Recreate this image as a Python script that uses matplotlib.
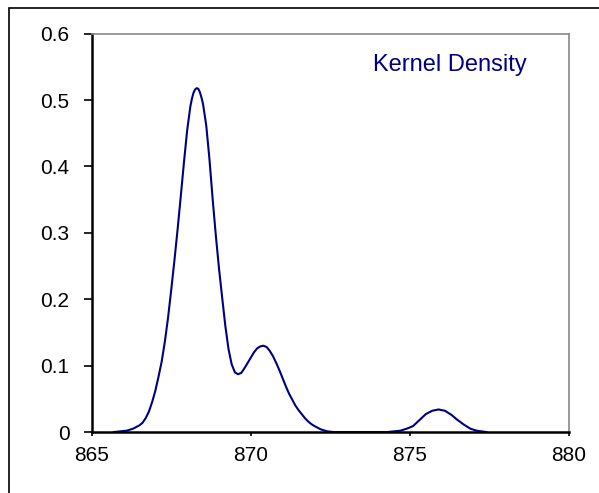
import matplotlib
matplotlib.use("Agg")
import matplotlib.pyplot as plt
from matplotlib.patches import Rectangle

plt.rcParams['font.family'] = ['Liberation Sans', 'DejaVu Sans']

# kernel density curve
x_vals = [865.7, 865.9, 866.1, 866.3, 866.5, 866.6, 866.7, 866.8, 866.9, 867.0,
          867.1, 867.2, 867.3, 867.4, 867.5, 867.6, 867.7, 867.8, 867.9, 868.0,
          868.1, 868.15, 868.2, 868.25, 868.3, 868.35, 868.4, 868.45, 868.5, 868.6,
          868.7, 868.8, 868.9, 869.0,
          869.1, 869.2, 869.3, 869.4, 869.5, 869.6, 869.7, 869.8, 869.9, 870.0,
          870.1, 870.2, 870.3, 870.4, 870.5, 870.6, 870.7, 870.8, 870.9, 871.0,
          871.1, 871.2, 871.3, 871.4, 871.5, 871.6, 871.7, 871.8, 871.9, 872.0,
          872.2, 872.4, 872.6, 873.5, 874.3, 874.5, 874.7, 874.9, 875.1, 875.3,
          875.5, 875.7, 875.9, 876.1, 876.3, 876.5, 876.7, 876.9, 877.1, 877.4]
y_vals = [0.000, 0.001, 0.002, 0.005, 0.010, 0.014, 0.021, 0.031, 0.045, 0.062,
          0.083, 0.106, 0.136, 0.172, 0.214, 0.258, 0.305, 0.355, 0.406, 0.454,
          0.490, 0.502, 0.511, 0.516, 0.518, 0.517, 0.512, 0.504, 0.494, 0.462,
          0.412, 0.352, 0.297, 0.247,
          0.203, 0.160, 0.125, 0.102, 0.090, 0.087, 0.089, 0.096, 0.104, 0.112,
          0.120, 0.126, 0.129, 0.130, 0.128, 0.122, 0.114, 0.104, 0.093, 0.081,
          0.069, 0.058, 0.049, 0.040, 0.033, 0.027, 0.021, 0.016, 0.012, 0.009,
          0.004, 0.001, 0.000, 0.000, 0.000, 0.001, 0.002, 0.005, 0.009, 0.018,
          0.027, 0.032, 0.034, 0.032, 0.026, 0.018, 0.011, 0.005, 0.002, 0.000]

x_ticks = [865, 870, 875, 880]
y_ticks = [0, 0.1, 0.2, 0.3, 0.4, 0.5, 0.6]
y_labels = ['0', '0.1', '0.2', '0.3', '0.4', '0.5', '0.6']

navy = '#000080'

fig = plt.figure(figsize=(5.99, 4.93), dpi=100)
ax = fig.add_axes([0.153, 0.1237, 0.797, 0.8079])

ax.plot(x_vals, y_vals, color=navy, lw=1.5)

ax.set_xlim(865, 880)
ax.set_ylim(0, 0.6)
ax.set_xticks(x_ticks)
ax.set_xticklabels([str(t) for t in x_ticks])
ax.set_yticks(y_ticks)
ax.set_yticklabels(y_labels)
ax.tick_params(axis='y', direction='out', length=6, width=1.2, pad=10, labelsize=15)
ax.tick_params(axis='x', direction='out', length=3, width=1.2, pad=7, labelsize=15)

for s in ['left', 'bottom']:
    ax.spines[s].set_linewidth(1.8)
    ax.spines[s].set_color('black')
for s in ['top', 'right']:
    ax.spines[s].set_linewidth(1.2)
    ax.spines[s].set_color('#888888')

ax.text(873.85, 0.5437, 'Kernel Density', color=navy, fontsize=17)

# outer frame (cut off at right and bottom edges)
fig.patches.append(Rectangle((9 / 599, -0.05), 1.1, 1 - 8 / 493 + 0.05,
                             transform=fig.transFigure, fill=False,
                             edgecolor='black', lw=1.2))

fig.savefig('out.png', dpi=100)
